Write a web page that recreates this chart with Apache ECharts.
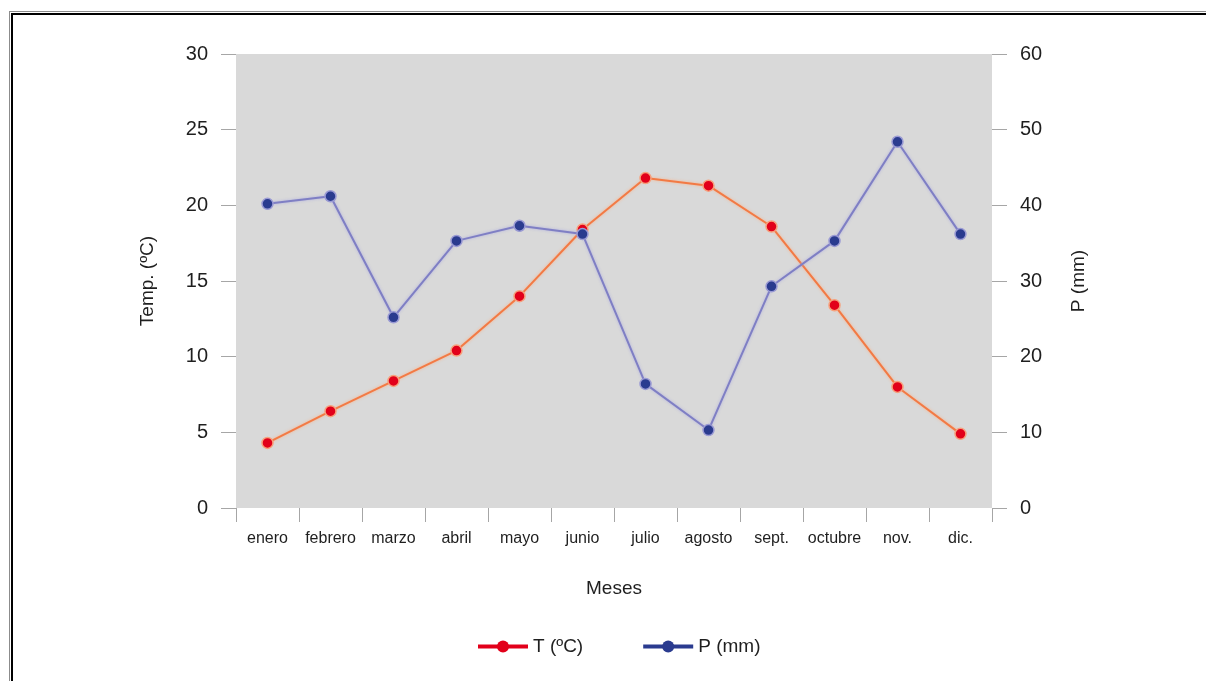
<!DOCTYPE html>
<html>
<head>
<meta charset="utf-8">
<script src="https://cdn.jsdelivr.net/npm/echarts@6/dist/echarts.min.js"></script>
<style>
  html, body { margin: 0; padding: 0; background: #fff; overflow: hidden; }
  #frame {
    position: absolute; left: 11px; top: 13px; width: 1300px; height: 800px;
    border: 2px solid #000; outline: 1px solid #8c8c8c; outline-offset: 1px;
  }
  #chart { position: absolute; left: 0; top: 0; width: 1206px; height: 681px; }
</style>
</head>
<body>
<div id="frame"></div>
<div id="chart"></div>
<script>
// Climograma: temperatura media mensual y precipitación
const meses = ['enero', 'febrero', 'marzo', 'abril', 'mayo', 'junio', 'julio', 'agosto', 'sept.', 'octubre', 'nov.', 'dic.'];
const temperatura = [4.3, 6.4, 8.4, 10.4, 14.0, 18.4, 21.8, 21.3, 18.6, 13.4, 8.0, 4.9];
const precipitacion = [40.2, 41.2, 25.2, 35.3, 37.3, 36.2, 16.4, 10.3, 29.3, 35.3, 48.4, 36.2];
const nombreT = 'T (ºC)';
const nombreP = 'P (mm)';

const txt = '#1f1f1f';
const baseFont = 'Liberation Sans, Arial, sans-serif';

const chart = echarts.init(document.getElementById('chart'), null, { renderer: 'canvas' });

const yAxisCommon = {
  type: 'value',
  nameLocation: 'middle',
  nameRotate: 90,
  nameTextStyle: { color: txt, fontSize: 19, fontFamily: baseFont },
  axisLine: { show: false },
  axisTick: { show: true, length: 15, lineStyle: { color: '#a6a6a6', width: 1 } },
  axisLabel: { color: txt, fontSize: 20, fontFamily: baseFont, margin: 28 },
  splitLine: { show: false }
};

chart.setOption({
  animation: false,
  backgroundColor: 'transparent',
  grid: {
    left: 236, right: 214, top: 54, bottom: 173,
    show: true, backgroundColor: '#d9d9d9', borderWidth: 0
  },
  legend: {
    bottom: 20,
    left: 471,
    itemWidth: 50,
    itemHeight: 15,
    itemGap: 58,
    textStyle: { color: txt, fontSize: 19, fontFamily: baseFont },
    data: [
      { name: nombreT, itemStyle: { color: '#e2001a', borderWidth: 0 }, lineStyle: { color: '#e2001a', width: 4, shadowBlur: 0 } },
      { name: nombreP, itemStyle: { color: '#2a3b8f', borderWidth: 0 }, lineStyle: { color: '#2a3b8f', width: 4, shadowBlur: 0 } }
    ]
  },
  xAxis: {
    type: 'category',
    data: meses,
    boundaryGap: true,
    name: 'Meses',
    nameLocation: 'middle',
    nameGap: 71,
    nameTextStyle: { color: txt, fontSize: 19, fontFamily: baseFont },
    axisLine: { show: false },
    axisTick: { show: true, length: 14, alignWithLabel: false, lineStyle: { color: '#a6a6a6', width: 1 } },
    axisLabel: { color: txt, fontSize: 16, fontFamily: baseFont, margin: 23, interval: 0 }
  },
  yAxis: [
    Object.assign({}, yAxisCommon, {
      name: 'Temp. (ºC)', position: 'left', min: 0, max: 30, interval: 5, nameGap: 79
    }),
    Object.assign({}, yAxisCommon, {
      name: 'P (mm)', position: 'right', min: 0, max: 60, interval: 10, nameGap: 77
    })
  ],
  series: [
    {
      name: nombreT,
      type: 'line',
      yAxisIndex: 0,
      data: temperatura,
      symbol: 'circle',
      symbolSize: 11,
      z: 3,
      lineStyle: { color: '#f27a45', width: 2, shadowColor: 'rgba(255,175,130,0.9)', shadowBlur: 3 },
      itemStyle: { color: '#e2001a', borderColor: '#f7a07c', borderWidth: 1.5 }
    },
    {
      name: nombreP,
      type: 'line',
      yAxisIndex: 1,
      data: precipitacion,
      symbol: 'circle',
      symbolSize: 11,
      z: 4,
      lineStyle: { color: '#7f7fc4', width: 2, shadowColor: 'rgba(170,170,225,0.9)', shadowBlur: 3 },
      itemStyle: { color: '#2a3b8f', borderColor: '#9a9ad4', borderWidth: 1.5 }
    }
  ]
});
</script>
</body>
</html>
